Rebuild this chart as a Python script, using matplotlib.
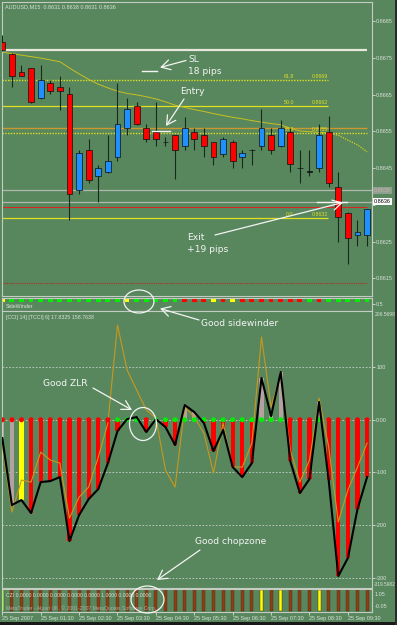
import numpy as np
import matplotlib.pyplot as plt
from matplotlib.patches import Ellipse, Rectangle

plt.rcParams['font.family'] = ['Liberation Sans', 'DejaVu Sans']

W, H = 397, 625
BG = '#58875d'
FG = '#d8e0d8'
FRAME = '#c4ccc4'

# ---- AUDUSD M15 candles, 39 bars
opens = [0.86792, 0.86759, 0.86710, 0.86721, 0.86640, 0.86680, 0.86670, 0.86651, 0.86390, 0.86499,
         0.86428, 0.86439, 0.86479, 0.86560, 0.86620, 0.86558, 0.86549, 0.86521, 0.86540, 0.86510,
         0.86549, 0.86540, 0.86520, 0.86488, 0.86520, 0.86479, 0.86500, 0.86510, 0.86540, 0.86510,
         0.86549, 0.86450, 0.86441, 0.86449, 0.86549, 0.86399, 0.86329, 0.86268, 0.86268]
highs = [0.86812, 0.86762, 0.86730, 0.86722, 0.86730, 0.86689, 0.86701, 0.86671, 0.86499, 0.86529,
         0.86458, 0.86540, 0.86680, 0.86640, 0.86630, 0.86570, 0.86630, 0.86535, 0.86540, 0.86590,
         0.86560, 0.86560, 0.86521, 0.86535, 0.86526, 0.86499, 0.86501, 0.86611, 0.86560, 0.86581,
         0.86558, 0.86499, 0.86499, 0.86570, 0.86592, 0.86440, 0.86330, 0.86309, 0.86340]
lows = [0.86768, 0.86670, 0.86701, 0.86628, 0.86638, 0.86651, 0.86609, 0.86309, 0.86379, 0.86409,
        0.86359, 0.86437, 0.86469, 0.86540, 0.86568, 0.86520, 0.86510, 0.86510, 0.86420, 0.86499,
        0.86499, 0.86479, 0.86458, 0.86479, 0.86449, 0.86449, 0.86458, 0.86499, 0.86488, 0.86508,
        0.86440, 0.86409, 0.86429, 0.86440, 0.86399, 0.86248, 0.86189, 0.86238, 0.86238]
closes = [0.86771, 0.86701, 0.86701, 0.86629, 0.86689, 0.86660, 0.86660, 0.86379, 0.86490, 0.86418,
          0.86449, 0.86469, 0.86571, 0.86611, 0.86570, 0.86530, 0.86530, 0.86520, 0.86499, 0.86558,
          0.86530, 0.86510, 0.86479, 0.86530, 0.86469, 0.86490, 0.86499, 0.86560, 0.86499, 0.86560,
          0.86460, 0.86449, 0.86440, 0.86540, 0.86409, 0.86318, 0.86259, 0.86277, 0.86339]
# moving average drawn on the price chart
ma = [0.86765, 0.86761, 0.86757, 0.86753, 0.86749, 0.86744, 0.86739, 0.86722, 0.86706, 0.86691,
      0.86678, 0.86668, 0.86659, 0.86653, 0.86649, 0.86644, 0.86638, 0.86630, 0.86621, 0.86615,
      0.86609, 0.86604, 0.86598, 0.86593, 0.86588, 0.86584, 0.86579, 0.86575, 0.86571, 0.86568,
      0.86558, 0.86551, 0.86549, 0.86547, 0.86546, 0.86539, 0.86526, 0.86513, 0.86494]

# horizontal levels
sl_level = 0.86772
fib_names = ['61.8', '50.0', '38.2', '0.0']
fib_texts = ['0.8669', '0.8662', '0.8655', '0.8632']
fib_prices = [0.86689, 0.86618, 0.86545, 0.86314]
orange_level = 0.86558
gray_levels = [0.86390, 0.86359]
red_level = 0.86343
low_level = 0.86137
bid_price = 0.86359

price_ticks = [0.8615, 0.8625, 0.8635, 0.8645, 0.8655, 0.8665, 0.8675, 0.8685]
price_labels = ['0.8615', '0.8625', '', '0.8645', '0.8655', '0.8665', '0.8675', '0.8685']

# ---- indicators
side_colors = (['yellow'] + ['green'] * 12 + ['yellow'] + ['green'] * 5 + ['red'] * 3 + ['yellow', 'red', 'yellow']
               + ['red'] * 7 + ['green', 'red'] + ['green'] * 5)
cci14 = [-34.8, -162.0, -152.5, -177.2, -118.4, -116.5, -108.9, -230.5, -181.0, -150.6,
         -131.6, -82.3, -21.5, 1.3, 5.1, -23.4, 1.3, -13.9, -48.1, 27.9,
         14.6, -6.3, -59.5, -19.4, -89.9, -108.9, -82.3, 79.2, 7.0, 90.6,
         -78.5, -139.3, -112.7, 33.6, -114.6, -296.9, -262.7, -169.6, -108.9]
tcci6 = [-48.1, -175.4, -114.6, -118.4, -61.4, -76.6, -82.3, -186.8, -146.9, -127.9,
         -70.9, -6.3, 179.9, 94.4, 56.4, 18.4, 3.2, -95.6, -127.9, 24.1,
         5.1, -25.3, -101.3, -6.3, -89.9, -89.9, -44.3, 157.1, 24.1, 88.7,
         -57.6, -118.4, -76.6, 41.2, -51.7, -194.3, -133.5, -89.9, -44.3]
hist_kind = (['gray', 'gray', 'yellow'] + ['red'] * 10 + ['gray', 'gray', 'red', 'gray', 'red', 'red', 'gray', 'gray']
             + ['red'] * 6 + ['gray'] * 3 + ['red'] * 3 + ['gray'] + ['red'] * 5)
dot_kind = ['red'] * 12 + ['green'] * 3 + ['red'] + ['green'] * 14 + ['red'] * 3 + ['green'] + ['red'] * 5
chop_kind = ['lime'] + ['brown'] * 26 + ['yellow', 'brown', 'yellow'] + ['brown'] * 3 + ['yellow'] + ['brown'] * 5

time_pos = [0, 4, 8, 12, 16, 20, 24, 28, 32, 36]
time_labels = ['25 Sep 2007', '25 Sep 01:30', '25 Sep 02:30', '25 Sep 03:30', '25 Sep 04:30',
               '25 Sep 05:30', '25 Sep 06:30', '25 Sep 07:30', '25 Sep 08:30', '25 Sep 09:30']

pal = {'red': '#ff0000', 'green': '#00f000', 'yellow': '#ffff00', 'gray': '#b4a2a2',
       'brown': '#8b3f14', 'lime': '#7cff00'}

x = np.arange(len(opens))
XMIN = -0.03
XMAX = XMIN + 370 / 9.6


def rect(top, bottom, left=2, right=372):
    return [left / W, 1 - bottom / H, (right - left) / W, (bottom - top) / H]


def style(ax):
    ax.set_facecolor(BG)
    for s in ax.spines.values():
        s.set_color(FRAME)
        s.set_linewidth(0.8)
    ax.set_xlim(XMIN, XMAX)
    ax.yaxis.tick_right()
    ax.tick_params(axis='y', colors=FG, labelsize=4, length=2, pad=1, width=0.6)
    ax.tick_params(axis='x', bottom=False, labelbottom=False)


fig = plt.figure(figsize=(W / 100, H / 100), dpi=100)
fig.patch.set_facecolor(BG)

# ---- main price panel
ax = fig.add_axes(rect(2, 296))
style(ax)
ax.set_ylim(0.861024, 0.869014)
ax.set_yticks(price_ticks)
ax.set_yticklabels(price_labels)

ax.hlines(sl_level, 0, 38.0, color='#e8e8dc', lw=1.6)
ax.hlines(orange_level, 0, 38.0, color='#c89a30', lw=1.0)
ax.hlines(gray_levels, XMIN, XMAX, color='#b0b8b0', lw=0.9)
ax.hlines(red_level, 0, 38.0, color='#e02020', lw=0.7)
ax.hlines(low_level, 0, 38.0, color='#b03020', lw=0.8, linestyles=(0, (1, 1)))
for name, txt, p in zip(fib_names, fib_texts, fib_prices):
    dotted = name in ('61.8', '38.2')
    x1 = 38.0 if name == '38.2' else 33.9
    ax.hlines(p, 0, x1, color='#e0e020', lw=1.0 if dotted else 0.9,
              linestyles=(0, (1, 1)) if dotted else '-')
    ax.text(29.9, p + 0.00003, name, color='#e0e020', fontsize=3.8, ha='center', va='bottom')
    ax.text(32.2, p + 0.00003, txt, color='#e0e020', fontsize=3.8, ha='left', va='bottom')

ax.plot(x[:35], ma[:35], color='#c8c020', lw=0.7)
ax.plot(x[34:], ma[34:], color='#d8d020', lw=0.9, ls=(0, (1, 1)))

o = np.array(opens)
c = np.array(closes)
body_col = np.where(c > o, '#1e90ff', '#ff0000')
body_col = np.where(np.abs(c - o) < 0.00003, '#1a1a1a', body_col)
ax.vlines(x, lows, highs, color='#1a2a1a', lw=0.8, zorder=3)
ax.bar(x, c - o, bottom=o, width=0.62, color=body_col, edgecolor='#101010', lw=0.5, zorder=4)

ax.text(0.008, 0.993, 'AUDUSD,M15  0.8631 0.8638 0.8631 0.8636', transform=ax.transAxes,
        color=FG, fontsize=4, ha='left', va='top')
ax.text(1.005, bid_price, '0.8636', transform=ax.get_yaxis_transform(), fontsize=4, color='black',
        ha='left', va='center', bbox=dict(fc='white', ec='none', pad=0.6), clip_on=False)
ax.text(1.005, gray_levels[0], '0.8639', transform=ax.get_yaxis_transform(), fontsize=4, color='#c8b0a8',
        ha='left', va='center', bbox=dict(fc='#90a090', ec='none', pad=0.6), clip_on=False)

# ---- SideWinder panel
ax2 = fig.add_axes(rect(297.5, 310.5))
style(ax2)
ax2.set_ylim(0, 1)
ax2.bar(x, 0.2, bottom=0.66, width=0.5, color=[pal[k] for k in side_colors])
ax2.set_yticks([0.5])
ax2.set_yticklabels(['0.5'])
ax2.text(0.01, 0.3, 'SideWinder', transform=ax2.transAxes, color=FG, fontsize=3.8, va='center')

# ---- CCI panel
ax3 = fig.add_axes(rect(311, 588))
style(ax3)
ax3.set_ylim(-319.5982, 206.5698)
ax3.set_yticks([100, 0, -100, -200, -300])
ax3.set_yticklabels(['100', '0.00', '-100', '-200', '-300'])
ax3.grid(axis='y', color='#c8d0c8', lw=0.6, ls=(0, (2, 2)))
ax3.bar(x, cci14, width=0.42, color=[pal[k] for k in hist_kind], zorder=2)
ax3.plot(x, tcci6, color='#c8981e', lw=0.8, zorder=3)
ax3.scatter(x, np.zeros(len(x)), s=13, c=[pal[k] for k in dot_kind], lw=0, zorder=4)
ax3.plot(x, cci14, color='black', lw=1.5, zorder=5)
ax3.text(0.01, 0.985, '[CCI] 14] [TCCI] 6] 17.8325 158.7638', transform=ax3.transAxes,
         color=FG, fontsize=3.8, va='top')
ax3.text(1.006, 0.995, '206.5698', transform=ax3.transAxes, color=FG, fontsize=3.6, va='top', clip_on=False)
ax3.text(1.006, 0.005, '-319.5982', transform=ax3.transAxes, color=FG, fontsize=3.4, va='bottom', clip_on=False)

# ---- Chop zone panel
ax4 = fig.add_axes(rect(589, 612))
style(ax4)
ax4.set_ylim(-0.05, 1.05)
ax4.set_yticks([])
ax4.bar(x, 1.0, width=0.32, color=[pal[k] for k in chop_kind], edgecolor='#5a2a10', lw=0.3)
ax4.text(0.01, 0.72, 'CZI 0.0000 0.0000 0.0000 0.0000 0.0000 1.0000 0.0000 0.0000', transform=ax4.transAxes,
         color=FG, fontsize=3.7, va='center')
ax4.text(0.01, 0.18, 'MetaTrader - Alpari UK, \u00a9 2001-2007 MetaQuotes Software Corp.', transform=ax4.transAxes,
         color='#a8b4a8', fontsize=3.7, va='center')
ax4.text(1.008, 0.78, '1.05', transform=ax4.transAxes, color=FG, fontsize=4, va='center', clip_on=False)
ax4.text(1.008, 0.22, '-0.05', transform=ax4.transAxes, color=FG, fontsize=4, va='center', clip_on=False)
ax4.tick_params(axis='x', bottom=True, labelbottom=True, colors=FG, labelsize=4, length=2, pad=1, width=0.6)
ax4.set_xticks(time_pos)
ax4.set_xticklabels(time_labels, ha='left')

# ---- annotations overlay (pixel coordinates)
ov = fig.add_axes([0, 0, 1, 1])
ov.set_xlim(0, W)
ov.set_ylim(H, 0)
ov.axis('off')
ov.patch.set_alpha(0)
WH = '#f4f4f4'
af = dict(family='DejaVu Sans', fontsize=6.6, color=WH, va='center', ha='left')
arr = dict(arrowstyle='->,head_length=0.8,head_width=0.45', color=WH, lw=0.9, mutation_scale=8,
           shrinkA=0, shrinkB=0)

ov.text(188, 59, 'SL', **af)
ov.text(188, 71, '18 pips', **af)
ov.annotate('', xy=(160, 67.5), xytext=(186, 60.5), arrowprops=arr)
ov.plot([142, 157], [70.7, 70.7], color=WH, lw=1)

ov.text(180, 92, 'Entry', **af)
ov.annotate('', xy=(166, 126), xytext=(184, 99), arrowprops=arr)
ov.plot([152, 170], [130.7, 130.7], color=WH, lw=1)

ov.text(187, 237, 'Exit', **af)
ov.text(187, 249, '+19 pips', **af)
ov.annotate('', xy=(343, 202.5), xytext=(215, 235), arrowprops=arr)
ov.plot([317, 347], [201.7, 201.7], color=WH, lw=1)

ov.add_patch(Ellipse((139, 301.5), 30, 23, fill=False, ec=WH, lw=0.9))
ov.text(201, 323, 'Good sidewinder', **af)
ov.annotate('', xy=(160, 308.5), xytext=(199, 320), arrowprops=arr)

ov.text(43, 384, 'Good ZLR', **af)
ov.annotate('', xy=(132, 410), xytext=(93, 388), arrowprops=arr)
ov.add_patch(Ellipse((143, 424), 27, 33, fill=False, ec=WH, lw=0.9))

ov.text(195, 541, 'Good chopzone', **af)
ov.annotate('', xy=(157, 580), xytext=(200, 550), arrowprops=arr)
ov.add_patch(Ellipse((147.5, 599.5), 33, 27, fill=False, ec=WH, lw=0.9))

# window edges
ov.add_patch(Rectangle((0, 622), W, 3, color='#1a1a1a', lw=0))
ov.add_patch(Rectangle((395, 0), 2, H, color='#2a2a2a', lw=0))

fig.savefig('out.png', dpi=100, facecolor=BG)
